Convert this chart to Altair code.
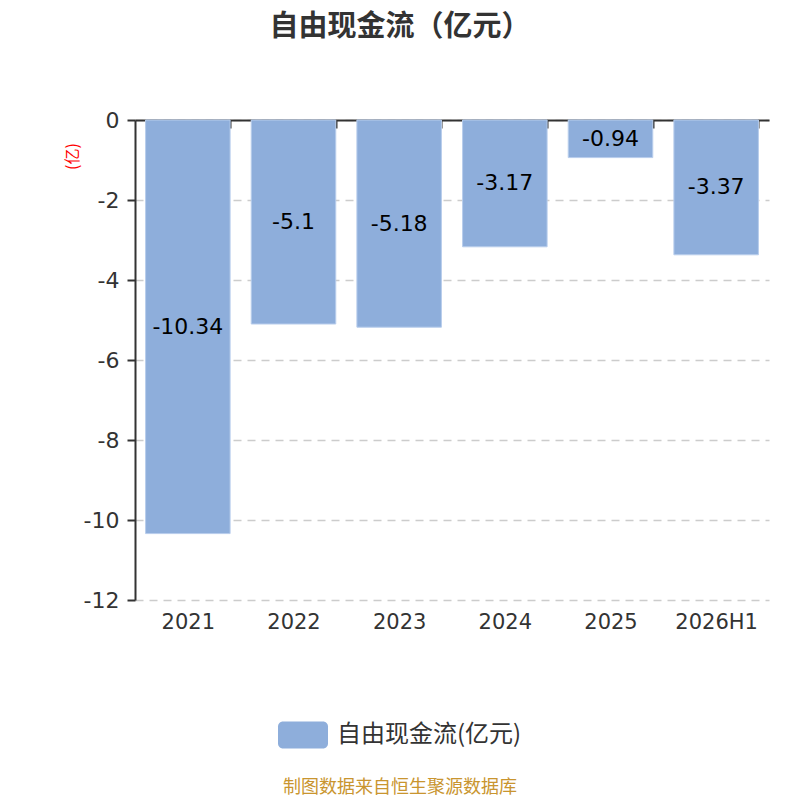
import altair as alt
import pandas as pd

years = ["2021", "2022", "2023", "2024", "2025", "2026H1"]
values = [-10.34, -5.1, -5.18, -3.17, -0.94, -3.37]
series_name = "自由现金流(亿元)"

df = pd.DataFrame({"year": years, "value": values})
df["mid"] = df["value"] / 2
df["label"] = [str(v) for v in values]
df["series"] = series_name

FONT = "Noto Sans CJK SC"
NUM = "DejaVu Sans"
BAR = "#8eaedb"

rr = ("M -0.8 -0.54 L 0.8 -0.54 A 0.2 0.2 0 0 1 1 -0.34 L 1 0.34 "
      "A 0.2 0.2 0 0 1 0.8 0.54 L -0.8 0.54 A 0.2 0.2 0 0 1 -1 0.34 "
      "L -1 -0.34 A 0.2 0.2 0 0 1 -0.8 -0.54 Z")

x_enc = alt.X("year:N", sort=None, title=None,
              scale=alt.Scale(paddingInner=0.2, paddingOuter=0.1),
              axis=alt.Axis(orient="bottom", offset=-480, domain=True, domainColor="#333",
                            domainWidth=2, ticks=True, tickColor="#333", tickSize=8,
                            tickWidth=2, tickBand="extent", labelAngle=0, labelFontSize=21,
                            labelColor="#333", labelFont=NUM, labelPadding=483, grid=False))

y_enc = alt.Y("value:Q", title="(亿)",
              scale=alt.Scale(domain=[-12, 0], nice=False),
              axis=alt.Axis(values=[0, -2, -4, -6, -8, -10, -12], domain=True, domainColor="#333",
                            domainWidth=2, ticks=True, tickColor="#333", tickSize=8, tickWidth=2,
                            labelExpr="'' + datum.value",
                            labelFontSize=22, labelColor="#333", labelFont=NUM, labelPadding=8,
                            grid=True, gridColor="#cccccc", gridDash=[8, 6], gridWidth=1.5,
                            titleColor="red", titleFontSize=16, titleFontWeight="normal",
                            titleFont=FONT, titleX=-63, titleY=36, titleAlign="center",
                            titleBaseline="middle", titleAngle=270))

bars = alt.Chart(df).mark_bar(color=BAR, stroke="#b8cdec", strokeWidth=1).encode(
    x=x_enc,
    y=y_enc,
    color=alt.Color("series:N", scale=alt.Scale(range=[BAR]),
                    legend=alt.Legend(title=None, orient="none", legendX=143, legendY=590,
                                      symbolType=rr, symbolSize=2500, symbolStrokeWidth=0,
                                      symbolOpacity=1, labelFontSize=24, labelColor="#333",
                                      labelFont=FONT, labelOffset=9, labelLimit=400, padding=0)),
)

labels = alt.Chart(df).mark_text(fontSize=22, color="#000", font=NUM, baseline="middle").encode(
    x=alt.X("year:N", sort=None),
    y=alt.Y("mid:Q"),
    text="label:N",
)

source = alt.Chart(pd.DataFrame({"t": ["制图数据来自恒生聚源数据库"]})).mark_text(
    fontSize=18, color="#c9952f", font=FONT, align="center", baseline="middle"
).encode(x=alt.value(265), y=alt.value(668), text="t:N")

chart = alt.layer(bars, labels, source).properties(
    width=634, height=480,
    autosize=alt.AutoSizeParams(type="none"),
    padding={"left": 127, "top": 112, "right": 23, "bottom": 200},
    title=alt.TitleParams("自由现金流（亿元）", fontSize=29, fontWeight="bold", color="#333",
                          font=FONT, anchor="middle", offset=67, dx=-52),
).configure_view(stroke=None)

chart.save("out.html", embed_options={"renderer": "svg", "actions": False})
